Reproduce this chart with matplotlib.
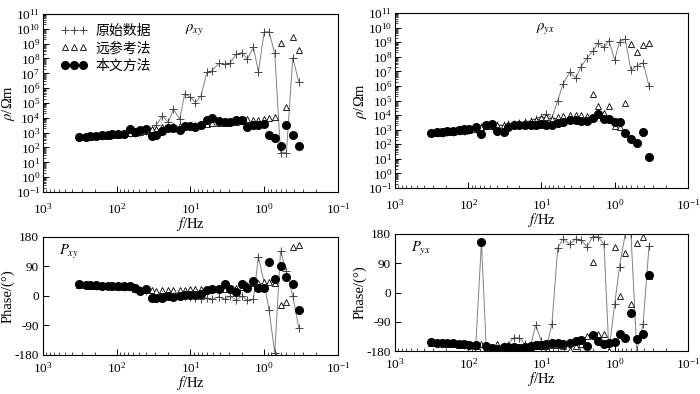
import matplotlib

matplotlib.use("Agg")
import matplotlib.pyplot as plt
from matplotlib.lines import Line2D
from matplotlib.ticker import LogLocator, NullFormatter

plt.rcParams["font.family"] = ["Liberation Serif", "Noto Sans CJK SC"]
plt.rcParams["mathtext.fontset"] = "stix"
plt.rcParams["axes.unicode_minus"] = False

# frequencies (Hz)
freq = [320, 265, 229, 194, 159, 132, 115, 97, 79, 66, 57, 48, 40, 33, 29, 24, 20, 17, 14, 12,
        10, 8.6, 7.2, 6.0, 5.1, 4.1, 3.4, 2.9, 2.4, 2.0, 1.7, 1.4, 1.2, 1.0, 0.86, 0.72, 0.60,
        0.50, 0.41, 0.34]

# apparent resistivity rho_xy (Ohm m)
rxy_raw = [500, 525, 562, 603, 631, 676, 724, 794, 851, 933, 1000, 1122, 1259, 1862, 3162,
           14000, 5000, 40000, 7900, 4.0e5, 2.5e5, 1.05e5, 3.0e5, 1.2e7, 1.5e7, 4.7e7, 4.3e7,
           5.0e7, 2.0e8, 2.5e8, 8.9e7, 5.6e8, 1.26e7, 6.3e9, 6.3e9, 2.2e8, 45, 45, 1.1e8, 2.7e6]
rxy_rr = [500, 525, 550, 575, 603, 631, 676, 724, 794, 891, 1000, 1072, 1259, 1862, 1862,
          2239, 2512, 2630, 2818, 3020, 3162, 3311, 3548, 3981, 4169, 4467, 4786, 5012, 5370,
          5754, 7943, 7079, 7586, 7943, 9333, 10700, 1.05e9, 56000, 2.7e9, 3.7e8]
rxy_new = [513, 537, 575, 631, 661, 708, 776, 813, 871, 1698, 1122, 1445, 1862, 575, 741,
           1259, 2089, 2188, 1445, 2692, 2818, 2512, 3548, 7079, 9120, 6310, 5495, 5012, 7079,
           7079, 2239, 3162, 3162, 3981, 676, 407, 129, 3236, 676, 129]

# apparent resistivity rho_yx (Ohm m)
ryx_raw = [562, 603, 631, 676, 724, 794, 871, 955, 1122, 1413, 1660, 1778, 1995, 2138, 2399,
           2630, 2884, 3548, 4169, 5623, 7943, 11220, 6310, 1.0e5, 1.26e6, 8.9e6, 3.4e6, 2.0e7,
           7.9e7, 2.3e8, 8.5e8, 4.6e8, 1.26e9, 6.2e7, 1.1e9, 1.6e9, 1.2e7, 2.3e7, 4.0e7, 9.5e5]
ryx_rr = [562, 603, 631, 676, 724, 794, 871, 955, 1122, 1445, 1778, 1862, 1995, 2138, 2399,
          2630, 2884, 3311, 3981, 4786, 6026, 7079, 5012, 7762, 9120, 10000, 10000, 10000, 9120,
          2.75e5, 41700, 13200, 41700, 1778, 1445, 64600, 7.4e8, 2.0e8, 6.5e8, 8.3e8]
ryx_new = [617, 661, 724, 794, 851, 955, 1047, 1148, 1445, 479, 2089, 2512, 759, 661, 1445,
           1995, 2089, 2188, 2239, 2239, 2344, 2188, 2188, 3020, 3467, 4571, 4571, 4074, 4074,
           6607, 11200, 5370, 5370, 3467, 3467, 617, 229, 126, 724, 14]

# phase xy (deg)
pxy_raw = [35, 34, 33, 32, 31, 30, 29, 29, 28, 27, 22, 18, 16, 10, 8, 5, 5, 3, 2, 0, -3, -5,
           -8, -5, -10, -2, -10, 0, -13, 0, -13, -10, 120, 40, -43, -173, 137, 75, 0, -97]
pxy_rr = [34, 33, 32, 31, 30, 29, 29, 28, 27, 26, 22, 18, 18, 17, 16, 17, 17, 18, 17, 18, 20,
          20, 20, 19, 20, 20, 20, 22, 25, 28, 35, 40, 41, 43, 43, 39, -28, -17, 150, 155]
pxy_new = [36, 35, 34, 33, 31, 30, 30, 30, 29, 32, 23, 16, 20, -5, -5, -7, 0, -2, 1, 4, 2, 2,
           5, 17, 22, 22, 37, 20, 12, 36, 25, 46, 25, 25, 104, 53, 91, 59, 37, -44]

# phase yx (deg)
pyx_raw = [-153, -155, -155, -156, -156, -159, -160, -163, -163, 155, -165, -172, -175, -165,
           -160, -139, -139, -158, -162, -100, -150, -170, -97, 137, 165, 149, 165, 162, 141,
           172, 172, 149, -179, -35, 80, 179, 179, -179, -97, 143]
pyx_rr = [-154, -155, -156, -157, -158, -160, -161, -163, -164, -159, -166, -170, -159, -167,
          -168, -169, -169, -168, -167, -166, -165, -164, -163, -162, -165, -177, -165, -158,
          -135, 93, -128, -128, -179, 141, -10, 123, -35, 151, 172, 52]
pyx_new = [-152, -154, -154, -155, -155, -158, -159, -163, -162, 155, -165, -172, -175, -167,
           -167, -168, -170, -167, -165, -162, -160, -158, -156, -156, -158, -154, -150, -146,
           -164, -131, -150, -158, -155, -153, -128, -141, -63, -143, -128, 54]

labels = ["原始数据", "远参考法", "本文方法"]
FS = 10.5   # axis labels
TS = 9.5    # tick labels


def draw(ax, raw, rr, new):
    ax.plot(freq, raw, color="#808080", lw=0.7, marker="+", ms=5.5, mew=0.7,
            mec="#444444", zorder=2)
    ax.plot(freq, rr, ls="none", marker="^", ms=4.5, mfc="white", mec="black",
            mew=0.6, zorder=3)
    ax.plot(freq, new, ls="none", marker="o", ms=5.5, color="black", zorder=4)
    ax.set_xscale("log")
    ax.set_xlim(1e3, 1e-1)
    ax.xaxis.set_major_locator(LogLocator(base=10, numticks=10))
    ax.xaxis.set_minor_locator(LogLocator(base=10, subs=range(2, 10), numticks=20))
    ax.xaxis.set_minor_formatter(NullFormatter())
    ax.tick_params(which="both", direction="in", top=False, right=False, labelsize=TS)
    ax.tick_params(which="major", length=4, width=0.7)
    ax.tick_params(which="minor", length=2.2, width=0.5)
    for s in ax.spines.values():
        s.set_linewidth(0.8)


fig = plt.figure(figsize=(7, 3.94), dpi=100)
ax1 = fig.add_axes([0.0614, 0.5127, 0.4214, 0.4518])
ax2 = fig.add_axes([0.5643, 0.5228, 0.4185, 0.4442])
ax3 = fig.add_axes([0.0614, 0.0990, 0.4214, 0.2995])
ax4 = fig.add_axes([0.5643, 0.1091, 0.4185, 0.2970])

for ax, raw, rr, new, tag in [(ax1, rxy_raw, rxy_rr, rxy_new, r"$\rho_{xy}$"),
                              (ax2, ryx_raw, ryx_rr, ryx_new, r"$\rho_{yx}$")]:
    draw(ax, raw, rr, new)
    ax.set_yscale("log")
    ax.set_ylim(1e-1, 1e11)
    ax.yaxis.set_major_locator(LogLocator(base=10, numticks=15))
    ax.yaxis.set_minor_locator(LogLocator(base=10, subs=range(2, 10), numticks=30))
    ax.yaxis.set_minor_formatter(NullFormatter())
    ax.tick_params(axis="y", which="major", pad=2)
    ax.tick_params(axis="x", which="major", pad=7)
    ax.set_xlabel(r"$f$/Hz", fontsize=FS, labelpad=-1)
    ax.set_ylabel(r"$\rho$/Ωm", fontsize=FS, labelpad=-1)
    ax.text(0.48, 0.905, tag, transform=ax.transAxes, fontsize=FS)

for ax, raw, rr, new, tag in [(ax3, pxy_raw, pxy_rr, pxy_new, r"$P_{xy}$"),
                              (ax4, pyx_raw, pyx_rr, pyx_new, r"$P_{yx}$")]:
    draw(ax, raw, rr, new)
    ax.set_ylim(-180, 180)
    ax.set_yticks([-180, -90, 0, 90, 180])
    ax.tick_params(axis="y", which="major", pad=3)
    ax.tick_params(axis="x", which="major", pad=4)
    ax.set_xlabel(r"$f$/Hz", fontsize=FS, labelpad=-1)
    ax.set_ylabel("Phase/(°)", fontsize=FS, labelpad=0)
    ax.text(0.055, 0.85, tag, transform=ax.transAxes, fontsize=FS)

handles = [
    Line2D([], [], ls="none", marker="+", ms=5.5, mew=0.7, color="#444444"),
    Line2D([], [], ls="none", marker="^", ms=4.5, mfc="white", mec="black", mew=0.6),
    Line2D([], [], ls="none", marker="o", ms=5.5, color="black"),
]
ax1.legend(handles, labels, loc="upper left", bbox_to_anchor=(0.06, 0.94), frameon=False,
           numpoints=3, fontsize=10, handlelength=1.9, handletextpad=0.6, labelspacing=0.3,
           borderaxespad=0.0, borderpad=0.0)

fig.savefig("out.png", dpi=100)
